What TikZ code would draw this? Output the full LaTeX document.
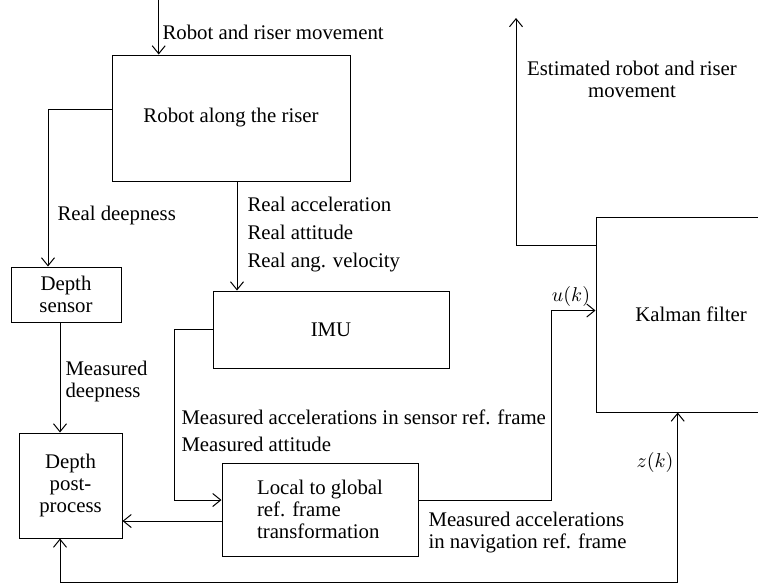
\documentclass[tikz,border=0pt]{standalone}
\usepackage{fontspec}
\setmainfont{Liberation Serif}
\usetikzlibrary{arrows.meta}
\tikzset{
  block/.style={draw, line width=0.5pt, align=center, inner sep=0pt},
  lbl/.style={inner sep=0pt, anchor=west, align=left},
}

\begin{document}
\begin{tikzpicture}[x=0.5pt, y=-0.5pt, line width=0.5pt,
    >={Straight Barb[length=4pt,width=6.5pt]},
    every node/.style={font=\fontsize{10.4}{11}\selectfont}]
  % Frame of the figure
  \clip (0,0) rectangle (758,585);

  % Blocks
  \node[block, minimum width=119pt, minimum height=63pt] (robot) at (231,118) {Robot along the riser};
  \node[block, minimum width=55pt, minimum height=27.5pt] (dsensor) at (66,294.5) {Depth\\ sensor};
  \node[block, minimum width=118pt, minimum height=38.5pt] (imu) at (331,329.5) {IMU};
  \node[block, minimum width=51.5pt, minimum height=52.5pt] (dpost) at (70.5,485.5) {Depth\\ post-\\ process};
  \node[block, align=left, minimum width=98pt, minimum height=46.5pt] (local) at (320,509.5) {Local to global\\ ref. frame\\ transformation};
  \node[block, minimum width=95pt, minimum height=97.5pt] (kalman) at (691,314.5) {Kalman filter};

  % Robot input
  \coordinate (top) at (158.7,0);
  \draw[->] (top) -- (top |- robot.north);
  \node[lbl] (lmove) at (162,32) {Robot and riser movement};

  % Robot to depth sensor
  \draw[->] ([yshift=4.5pt]robot.west) -| ([xshift=-9pt]dsensor.north);
  \node[lbl] (ldeep) at (57,215) {Real deepness};

  % Robot to IMU
  \draw[->] ([xshift=3pt]robot.south) -- ([xshift=3pt]robot.south |- imu.north);
  \node[lbl] (lreal) at (247,235) {Real acceleration\\[3pt] Real attitude\\[3pt] Real ang. velocity};

  % Depth sensor to post-process
  \draw[->] ([xshift=-3pt]dsensor.south) -- ([xshift=-3pt]dsensor.south |- dpost.north);
  \node[lbl] (lmdeep) at (65,381) {Measured\\ deepness};

  % IMU to local/global
  \draw[->] (imu.west) -- ++(-38,0) |- ([yshift=4.75pt]local.west);
  \node[lbl] (lmacc) at (181,431) {Measured accelerations in sensor ref. frame\\[2.5pt] Measured attitude};

  % Local/global to post-process
  \draw[->] ([yshift=-5.75pt]local.west) -- ([yshift=-5.75pt]local.west -| dpost.east);

  % Local/global to Kalman filter
  \draw[->] ([yshift=4.75pt]local.east) -- ++(133,0) |- ([yshift=2pt]kalman.west);
  \node (lu) at (571,296) {$u(k)$};
  \node[lbl] (lnav) at (428,533) {Measured accelerations\\ in navigation ref. frame};

  % Post-process and Kalman filter
  \draw[<->] ([xshift=-5.25pt]dpost.south) -- ++(0,43.5) -| ([xshift=-6.65pt]kalman.south);
  \node (lz) at (655,462) {$z(k)$};

  % Kalman filter output
  \coordinate (est) at (516,18);
  \draw[->] ([yshift=34.75pt]kalman.west) -| (est);
  \node[align=center] (lest) at (632,79) {Estimated robot and riser\\ movement};
\end{tikzpicture}
\end{document}
